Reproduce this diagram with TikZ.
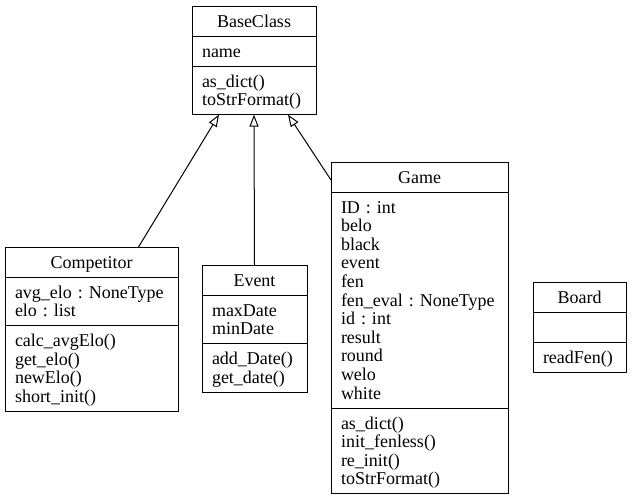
\documentclass[tikz,border=0pt]{standalone}
\usepackage{fontspec}
\setmainfont{Liberation Serif}
\frenchspacing
\usetikzlibrary{arrows.meta,positioning}
\newcommand\umltop{\rule{0pt}{16pt}}
\newcommand\umlbot{\rule[-4pt]{0pt}{4pt}}
\tikzset{
  umlbox/.style={draw, line width=1pt, outer sep=0pt, inner xsep=10pt, inner ysep=5pt, font=\fontsize{18}{18.6}\selectfont, execute at begin node=\umltop, execute at end node=\umlbot},
  umltitle/.style={umlbox, align=center},
  umlpart/.style={umlbox, align=left},
  umlarrow/.style={-{Triangle[open, length=12pt, width=9pt]}, line width=1pt}
}
\begin{document}
\begin{tikzpicture}[x=1pt, y=-1pt, node distance=0pt]
\useasboundingbox (0,0) rectangle (632,499);
% BaseClass
\node[umltitle, text width=104pt, anchor=north west] (base) at (192,6) {BaseClass};
\node[umlpart, text width=104pt, below=of base] (baseattr) {name};
\node[umlpart, text width=104pt, below=of baseattr] (basemeth) {as\_dict()\\toStrFormat()};
% Competitor
\node[umltitle, text width=153pt, anchor=north west] (comp) at (5,247) {Competitor};
\node[umlpart, text width=153pt, below=of comp] (compattr) {avg\_elo : NoneType\\elo : list};
\node[umlpart, text width=153pt, below=of compattr] (compmeth) {calc\_avgElo()\\get\_elo()\\newElo()\\short\_init()};
% Event
\node[umltitle, text width=85pt, anchor=north west] (event) at (202,265) {Event};
\node[umlpart, text width=85pt, below=of event] (eventattr) {maxDate\\minDate};
\node[umlpart, text width=85pt, below=of eventattr] (eventmeth) {add\_Date()\\get\_date()};
% Game
\node[umltitle, text width=157pt, anchor=north west] (game) at (331,162) {Game};
\node[umlpart, text width=157pt, below=of game] (gameattr) {ID : int\\belo\\black\\event\\fen\\fen\_eval : NoneType\\id : int\\result\\round\\welo\\white};
\node[umlpart, text width=157pt, below=of gameattr] (gamemeth) {as\_dict()\\init\_fenless()\\re\_init()\\toStrFormat()};
% Board
\node[umltitle, text width=73pt, anchor=north west] (board) at (533,282) {Board};
\node[umlpart, text width=73pt, below=of board] (boardattr) {};
\node[umlpart, text width=73pt, below=of boardattr] (boardmeth) {readFen()};
% inheritance
\draw[umlarrow] ([xshift=47pt]comp.north) -- ([xshift=-35pt]basemeth.south);
\draw[umlarrow] (event.north) -- (basemeth.south);
\draw[umlarrow] ([yshift=-3pt]game.west) -- ([xshift=34pt]basemeth.south);
\end{tikzpicture}
\end{document}
